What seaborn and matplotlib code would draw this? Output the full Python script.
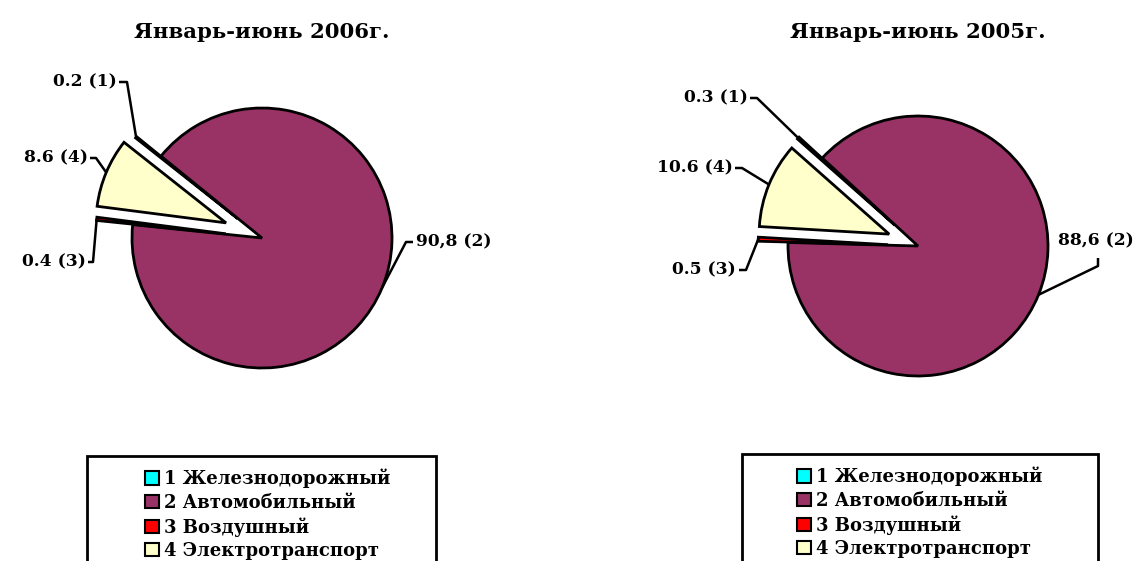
import numpy as np
import matplotlib
matplotlib.use("Agg")
import matplotlib.pyplot as plt
import seaborn as sns
from matplotlib.patches import Patch, Rectangle

sns.set_theme(style="white")
plt.rcParams['font.family'] = ['DejaVu Serif']
plt.rcParams['font.weight'] = 'bold'
plt.rcParams['text.color'] = 'black'

# data
categories = ["1 Железнодорожный", "2 Автомобильный", "3 Воздушный", "4 Электротранспорт"]
share_2006 = [0.2, 90.8, 0.4, 8.6]
share_2005 = [0.3, 88.6, 0.5, 10.6]
labels_2006 = ["0.2 (1)", "90,8 (2)", "0.4 (3)", "8.6 (4)"]
labels_2005 = ["0.3 (1)", "88,6 (2)", "0.5 (3)", "10.6 (4)"]
titles = ["Январь-июнь 2006г.", "Январь-июнь 2005г."]
colors = ["#00FFFF", "#993366", "#FF0000", "#FFFFCC"]

W, H = 1134, 561
R = 130  # pie radius, px

fig = plt.figure(figsize=(W / 100, H / 100), dpi=100)

# layout of each panel in pixels (origin top-left)
panels = [
    dict(values=share_2006, labels=labels_2006, title=titles[0], left=0, center=(262, 238),
         start=141.7, explode=[0.24, 0, 0.28, 0.3],
         text=[(117, 82, "right"), (416, 242, "left"), (86, 262, "right"), (88, 158, "right")],
         elbow=[[(119, 82), (127, 82)], [(413, 242), (406, 242)], [(88, 262), (93, 262)], [(90, 158), (96, 158)]],
         box=(87, 456, 436), legend_x=268),
    dict(values=share_2005, labels=labels_2005, title=titles[1], left=567, center=(918, 246),
         start=138.5, explode=[0.24, 0, 0.23, 0.24],
         text=[(748, 98, "right"), (1096, 241, "center"), (736, 270, "right"), (733, 168, "right")],
         elbow=[[(750, 98), (757, 98)], [(1098, 258), (1098, 266)], [(739, 270), (746, 270)], [(735, 168), (742, 168)]],
         box=(742, 454, 1098), legend_x=920),
]

for p in panels:
    ax = fig.add_axes([p["left"] / W, 0, 567 / W, 1])
    cx, cy = p["center"]

    def px(x, y):
        return (x - cx) / R, (cy - y) / R

    wedges, _ = ax.pie(p["values"], colors=colors, startangle=p["start"], counterclock=False,
                       explode=p["explode"], radius=1,
                       wedgeprops=dict(edgecolor="black", linewidth=2))
    ax.set_aspect("auto")
    ax.set_xlim((p["left"] - cx) / R, (p["left"] + 567 - cx) / R)
    ax.set_ylim((cy - H) / R, cy / R)
    ax.axis("off")

    for w, lab, (tx, ty, ha), pts in zip(wedges, p["labels"], p["text"], p["elbow"]):
        mid = np.deg2rad((w.theta1 + w.theta2) / 2)
        ex, ey = w.center[0] + w.r * np.cos(mid), w.center[1] + w.r * np.sin(mid)
        xs = [px(*q)[0] for q in pts] + [ex]
        ys = [px(*q)[1] for q in pts] + [ey]
        ax.plot(xs, ys, color="black", lw=1.8, solid_capstyle="butt")
        ax.text(*px(tx, ty), lab, ha=ha, va="center", fontsize=12.3, fontweight="bold")

    ax.text(*px(cx, 32), p["title"], ha="center", va="center", fontsize=15.3, fontweight="bold")

    # legend frame (runs past the bottom edge, as in the reference)
    bx0, by0, bx1 = p["box"]
    fig.patches.append(Rectangle((bx0 / W, -0.1), (bx1 - bx0) / W, 0.1 + (H - by0) / H,
                                 transform=fig.transFigure, fill=False, edgecolor="black", lw=2))
    handles = [Patch(facecolor=c, edgecolor="black", linewidth=1.5) for c in colors]
    fig.legend(handles, categories, loc="upper center", bbox_to_anchor=(p["legend_x"] / W, 1 - (by0 + 1) / H),
               frameon=False, fontsize=13, handlelength=0.75, handleheight=0.75,
               handletextpad=0.3, labelspacing=0.3, borderpad=0.15)

fig.savefig("out.png", dpi=100, facecolor="white")
